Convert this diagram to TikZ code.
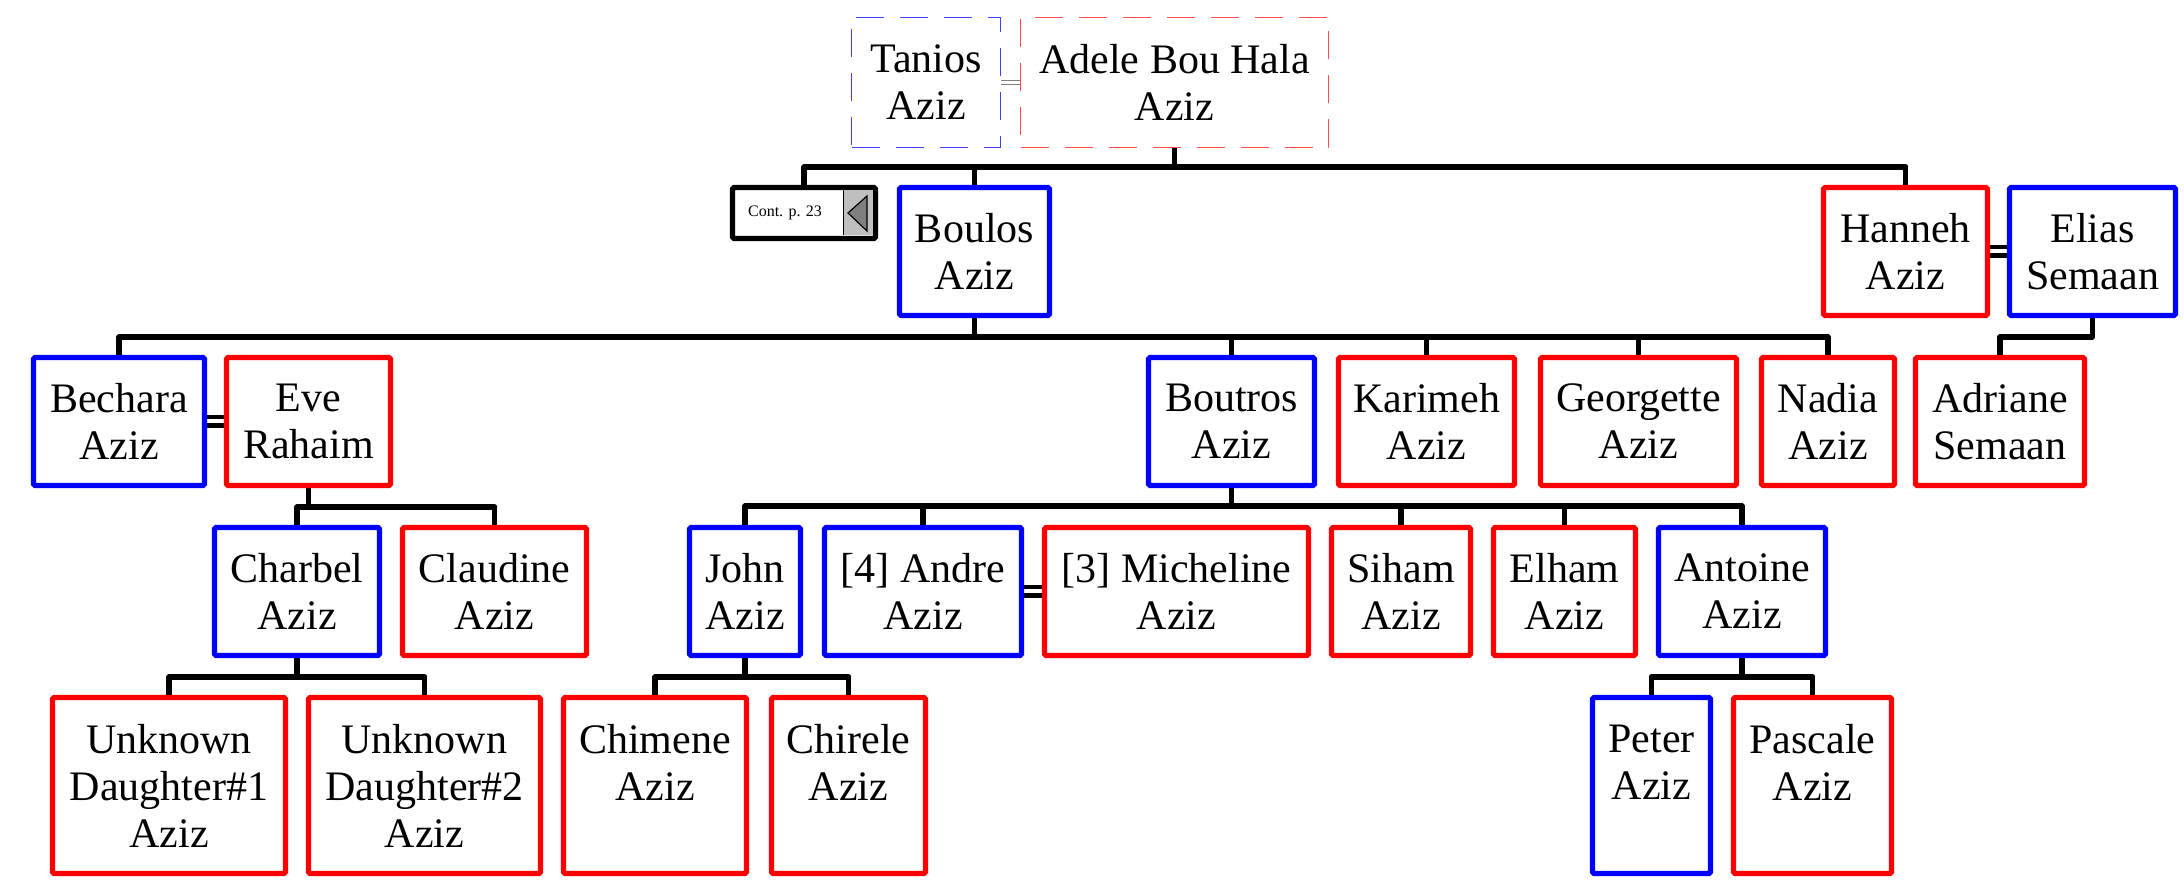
\documentclass[tikz,border=0pt]{standalone}
\usepackage{fontspec}
\setmainfont{Liberation Serif}
\usetikzlibrary{backgrounds}
\begin{document}
\begin{tikzpicture}[x=0.5pt,y=-0.5pt,
  person/.style={draw, line width=2.6pt, inner sep=0pt, align=center,
    font=\fontsize{21}{23.5}\selectfont, minimum height=64pt, fill=white, rounded corners=0.8pt},
  male/.style={person, draw=blue},
  female/.style={person, draw=red},
  anc/.style={person, line width=0.6pt, dash pattern=on 14pt off 8pt, minimum height=65pt, rounded corners=0pt},
  ancm/.style={anc, draw=blue!75},
  ancf/.style={anc, draw=red!70},
  tall/.style={minimum height=88pt},
  contbox/.style={draw=black, line width=2.6pt, inner sep=0pt, fill=white,
    font=\fontsize{8}{9.6}\selectfont, minimum width=71.5pt, minimum height=25.5pt, rounded corners=0.8pt},
  conn/.style={line width=2.6pt, black, line cap=round, line join=round},
  marry/.style={draw=black, line width=2.1pt, double=white, double distance=2pt},
  marrythin/.style={draw=gray, line width=0.5pt, double=white, double distance=1.6pt}]
\useasboundingbox (0,0) rectangle (2184,892);

% row 1
\node[ancm, minimum width=74.5pt] (tanios) at (926,82.5) {Tanios\\Aziz};
\node[ancf, minimum width=154pt] (adele) at (1174.5,82.5) {Adele Bou Hala\\Aziz};

% row 2
\node[contbox] (cont) at (804,213) {Cont. p. 23\hspace*{19pt}};
\fill[gray!50] (843,190.5) rectangle (873,235.5);
\draw[line width=0.5pt] (843,190.5) -- (843,235.5);
\draw[fill=gray, line width=0.6pt] (848,213) -- (867,196) -- (867,231) -- cycle;
\node[male, minimum width=75pt] (boulos) at (974.5,251.5) {Boulos\\Aziz};
\node[female, minimum width=82pt] (hanneh) at (1905.5,251.5) {Hanneh\\Aziz};
\node[male, minimum width=83pt] (elias) at (2092.5,251.5) {Elias\\Semaan};

% row 3
\node[male, minimum width=85.5pt] (bechara) at (119,421.5) {Bechara\\Aziz};
\node[female, minimum width=82pt] (eve) at (308.5,421.5) {Eve\\Rahaim};
\node[male, minimum width=83pt] (boutros) at (1231.5,421.5) {Boutros\\Aziz};
\node[female, minimum width=88pt] (karimeh) at (1426.5,421.5) {Karimeh\\Aziz};
\node[female, minimum width=98pt] (georgette) at (1638.5,421.5) {Georgette\\Aziz};
\node[female, minimum width=66.5pt] (nadia) at (1828,421.5) {Nadia\\Aziz};
\node[female, minimum width=84.5pt] (adriane) at (2000,421.5) {Adriane\\Semaan};

% row 4
\node[male, minimum width=82.5pt] (charbel) at (297,591.5) {Charbel\\Aziz};
\node[female, minimum width=92pt] (claudine) at (494.5,591.5) {Claudine\\Aziz};
\node[male, minimum width=55.5pt] (john) at (745,591.5) {John\\Aziz};
\node[male, minimum width=98.5pt] (andre) at (923,591.5) {[4] Andre\\Aziz};
\node[female, minimum width=132pt] (micheline) at (1176.5,591.5) {[3] Micheline\\Aziz};
\node[female, minimum width=69.5pt] (siham) at (1401,591.5) {Siham\\Aziz};
\node[female, minimum width=71pt] (elham) at (1564.5,591.5) {Elham\\Aziz};
\node[male, minimum width=83.5pt] (antoine) at (1742,591.5) {Antoine\\Aziz};

% row 5
\node[female, tall, minimum width=116.5pt] (ud1) at (169,785.5) {Unknown\\Daughter\#1\\Aziz};
\node[female, tall, minimum width=116pt] (ud2) at (424.5,785.5) {Unknown\\Daughter\#2\\Aziz};
\node[female, tall, minimum width=91.5pt] (chimene) at (655,785.5) {Chimene\\Aziz\\\phantom{Aziz}};
\node[female, tall, minimum width=77pt] (chirele) at (848.5,785.5) {Chirele\\Aziz\\\phantom{Aziz}};
\node[male, tall, minimum width=59pt] (peter) at (1651.5,785.5) {Peter\\Aziz\\\phantom{Aziz}};
\node[female, tall, minimum width=79pt] (pascale) at (1812.5,785.5) {Pascale\\Aziz\\\phantom{Aziz}};

\begin{scope}[on background layer]
  % marriages
  \draw[marrythin] (tanios.east) -- (adele.west);
  \draw[marry] (hanneh.east) -- (elias.west);
  \draw[marry] (bechara.east) -- (eve.west);
  \draw[marry] (andre.east) -- (micheline.west);

  % Tanios & Adele's children
  \coordinate (bA) at (0,167);
  \draw[conn] (adele.south) -- (adele.south |- bA);
  \draw[conn] (cont.north |- bA) -- (hanneh.north |- bA);
  \foreach \c in {cont,boulos,hanneh} \draw[conn] (\c.north) -- (\c.north |- bA);

  % Boulos's children
  \coordinate (bB) at (0,337);
  \draw[conn] (boulos.south) -- (boulos.south |- bB);
  \draw[conn] (bechara.north |- bB) -- (nadia.north |- bB);
  \foreach \c in {bechara,boutros,karimeh,georgette,nadia} \draw[conn] (\c.north) -- (\c.north |- bB);

  % Elias's child
  \draw[conn] (elias.south) -- (elias.south |- bB) -| (adriane.north);

  % Eve's children
  \coordinate (bC) at (0,507);
  \draw[conn] (eve.south) -- (eve.south |- bC);
  \draw[conn] (charbel.north |- bC) -- (claudine.north |- bC);
  \foreach \c in {charbel,claudine} \draw[conn] (\c.north) -- (\c.north |- bC);

  % Boutros's children
  \coordinate (bD) at (0,506);
  \draw[conn] (boutros.south) -- (boutros.south |- bD);
  \draw[conn] (john.north |- bD) -- (antoine.north |- bD);
  \foreach \c in {john,andre,siham,elham,antoine} \draw[conn] (\c.north) -- (\c.north |- bD);

  % Charbel's children
  \coordinate (bE) at (0,677);
  \draw[conn] (charbel.south) -- (charbel.south |- bE);
  \draw[conn] (ud1.north |- bE) -- (ud2.north |- bE);
  \foreach \c in {ud1,ud2} \draw[conn] (\c.north) -- (\c.north |- bE);

  % John's children
  \draw[conn] (john.south) -- (john.south |- bE);
  \draw[conn] (chimene.north |- bE) -- (chirele.north |- bE);
  \foreach \c in {chimene,chirele} \draw[conn] (\c.north) -- (\c.north |- bE);

  % Antoine's children
  \draw[conn] (antoine.south) -- (antoine.south |- bE);
  \draw[conn] (peter.north |- bE) -- (pascale.north |- bE);
  \foreach \c in {peter,pascale} \draw[conn] (\c.north) -- (\c.north |- bE);
\end{scope}
\end{tikzpicture}
\end{document}
